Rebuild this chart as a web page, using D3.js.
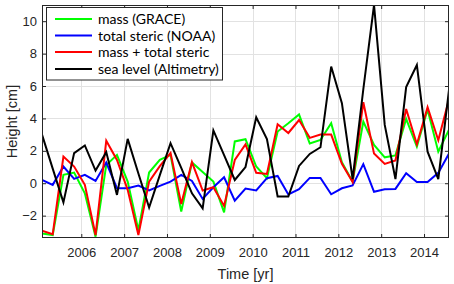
<!DOCTYPE html>
<html>
<head>
<meta charset="utf-8">
<script src="https://cdn.jsdelivr.net/npm/d3@7"></script>
<style>
  html, body { margin: 0; padding: 0; background: #fff; }
  svg { display: block; }
  text { font-family: "Liberation Sans", Arial, sans-serif; }
</style>
</head>
<body>
<svg id="chart" width="454" height="284"></svg>
<script>
// ---- data ----
const time = [2005.083, 2005.333, 2005.583, 2005.833, 2006.083, 2006.333, 2006.583, 2006.833,
  2007.083, 2007.333, 2007.583, 2007.833, 2008.083, 2008.333, 2008.583, 2008.833,
  2009.083, 2009.333, 2009.583, 2009.833, 2010.083, 2010.333, 2010.583, 2010.833,
  2011.083, 2011.333, 2011.583, 2011.833, 2012.083, 2012.333, 2012.583, 2012.833,
  2013.083, 2013.333, 2013.583, 2013.833, 2014.083, 2014.333, 2014.583];

const massGrace = [-3.1, -3.2, 0.52, 0.66, -0.62, -3.3, 1.13, 1.75, 0.1, -2.9,
  0.66, 1.44, 1.75, -1.75, 1.28, 0.7, 0.1, -1.8, 2.58, 2.72,
  1.03, 0.31, 3.19, 3.7, 4.25, 2.45, 2.67, 3.7, 1.3, 0.1,
  3.8, 2.37, 1.6, 1.72, 3.97, 2.26, 4.55, 1.95, 3.3];

const totalSteric = [0.2, -0.1, 1.03, 0.27, 0.52, 0.14, 1.28, -0.31, -0.31, -0.14,
  -0.45, -0.16, 0.1, 0.52, 0.14, -0.97, -0.25, 0.37, -1.07, -0.33,
  -0.45, 0.31, 0.45, -0.69, -0.37, 0.33, 0.33, -0.68, -0.31, -0.14,
  1.18, -0.53, -0.37, -0.35, 0.62, 0.08, 0.08, 0.64, 1.83];

const massPlusSteric = [-2.93, -3.15, 1.65, 1.03, -0.1, -3.2, 2.62, 1.44, -0.41, -3.2,
  0.1, 1.05, 1.86, -1.28, 1.3, -0.45, -0.25, -1.4, 1.44, 2.4,
  0.64, 0.57, 3.64, 3.1, 3.9, 2.8, 3.0, 3.0, 1.2, 0.07,
  5.0, 1.83, 1.19, 1.4, 4.58, 2.4, 4.69, 2.65, 5.18];

const seaLevel = [3.0, 0.9, -1.18, 1.86, 2.33, 0.78, 1.92, -0.72, 2.74, 0.6,
  -1.5, 0.5, 2.47, 0.95, -0.62, -1.55, 3.26, 1.73, 0.2, 1.0,
  4.07, 2.72, -0.82, -0.82, 1.07, 1.81, 2.22, 7.2, 4.94, 0.26,
  5.8, 11.0, 3.6, 0.26, 5.93, 7.3, 1.95, 0.26, 5.76];

const seriesNames = ["mass (GRACE)", "total steric (NOAA)", "mass + total steric", "sea level (Altimetry)"];
const seriesColors = ["#00ff00", "#0000ff", "#ff0000", "#000000"];
const xTicks = [2006, 2007, 2008, 2009, 2010, 2011, 2012, 2013, 2014];
const yTicks = [-2, 0, 2, 4, 6, 8, 10];

const xLabel = "Time [yr]";
const yLabel = "Height [cm]";

// ---- layout ----
const svg = d3.select("#chart");
const L = 42, R = 449, T = 5, B = 238;

const x = d3.scaleLinear().domain([2005.083, 2014.583]).range([L, R]);
const y = d3.scaleLinear().domain([-3.38, 11.0]).range([B, T]);

// grid
const grid = svg.append("g");
grid.selectAll("line.gx").data(xTicks).join("line")
  .attr("x1", d => Math.round(x(d)) + 0.5).attr("x2", d => Math.round(x(d)) + 0.5)
  .attr("y1", T).attr("y2", B)
  .attr("stroke", "#e2e2e2").attr("stroke-width", 1);
grid.selectAll("line.gy").data(yTicks).join("line")
  .attr("y1", d => Math.round(y(d)) + 0.5).attr("y2", d => Math.round(y(d)) + 0.5)
  .attr("x1", L).attr("x2", R)
  .attr("stroke", "#e2e2e2").attr("stroke-width", 1);

// lines
svg.append("defs").append("clipPath").attr("id", "clip")
  .append("rect").attr("x", L).attr("y", T).attr("width", R - L).attr("height", B - T);

const allSeries = [massGrace, totalSteric, massPlusSteric, seaLevel];
const line = d3.line().x((d, i) => x(time[i])).y(d => y(d));
const plot = svg.append("g").attr("clip-path", "url(#clip)");
allSeries.forEach((s, j) => {
  plot.append("path").datum(s)
    .attr("d", line)
    .attr("fill", "none")
    .attr("stroke", seriesColors[j])
    .attr("stroke-width", 2)
    .attr("stroke-linejoin", "miter");
});

// axes
const axisColor = "#262626";
const fmt = d3.format("d");
const gx = svg.append("g").attr("transform", `translate(0,${B})`)
  .call(d3.axisBottom(x).tickValues(xTicks).tickFormat(fmt).tickSize(-4).tickPadding(10));
const gy = svg.append("g").attr("transform", `translate(${L},0)`)
  .call(d3.axisLeft(y).tickValues(yTicks).tickFormat(fmt).tickSize(-4).tickPadding(5));
const gxt = svg.append("g").attr("transform", `translate(0,${T})`)
  .call(d3.axisTop(x).tickValues(xTicks).tickFormat("").tickSize(-4));
const gyr = svg.append("g").attr("transform", `translate(${R},0)`)
  .call(d3.axisRight(y).tickValues(yTicks).tickFormat("").tickSize(-4));

[gx, gy, gxt, gyr].forEach(g => {
  g.select(".domain").remove();
  g.selectAll(".tick line").attr("stroke", axisColor);
  g.selectAll("text").attr("fill", "#262626").style("font-size", "13px")
    .style("font-family", "'Liberation Sans', Arial, sans-serif");
});

svg.append("rect").attr("x", L + 0.5).attr("y", T + 0.5)
  .attr("width", R - L - 1).attr("height", B - T - 1)
  .attr("fill", "none").attr("stroke", axisColor).attr("stroke-width", 1);

// axis labels
svg.append("text").attr("x", (L + R) / 2).attr("y", 278.5)
  .attr("text-anchor", "middle").attr("fill", "#262626")
  .style("font-size", "14.5px").text(xLabel);
svg.append("text").attr("transform", `translate(16.5,${(T + B) / 2}) rotate(-90)`)
  .attr("text-anchor", "middle").attr("fill", "#262626")
  .style("font-size", "14.5px").text(yLabel);

// legend
const lg = svg.append("g");
lg.append("rect").attr("x", 46.5).attr("y", 7.5).attr("width", 176).attr("height", 72.5)
  .attr("fill", "#fff").attr("stroke", "#262626").attr("stroke-width", 1);
const rowY = [19, 35.5, 52, 69];
const texts = [];
seriesNames.forEach((name, j) => {
  lg.append("line").attr("x1", 55).attr("x2", 92)
    .attr("y1", rowY[j]).attr("y2", rowY[j])
    .attr("stroke", seriesColors[j]).attr("stroke-width", 2);
  texts.push(lg.append("text").attr("x", 98).attr("y", rowY[j]).attr("dy", "0.36em")
    .attr("fill", "#000")
    .style("font-family", "Lato, 'Open Sans', sans-serif")
    .style("font-size", "14px").text(name));
});
// fit legend font so the longest entry spans ~121px as in the reference
const longest = texts[3].node().getComputedTextLength();
if (longest > 0) {
  const fs = Math.max(11, Math.min(16, 14 * 121 / longest));
  texts.forEach(t => t.style("font-size", fs + "px"));
}
</script>
</body>
</html>
